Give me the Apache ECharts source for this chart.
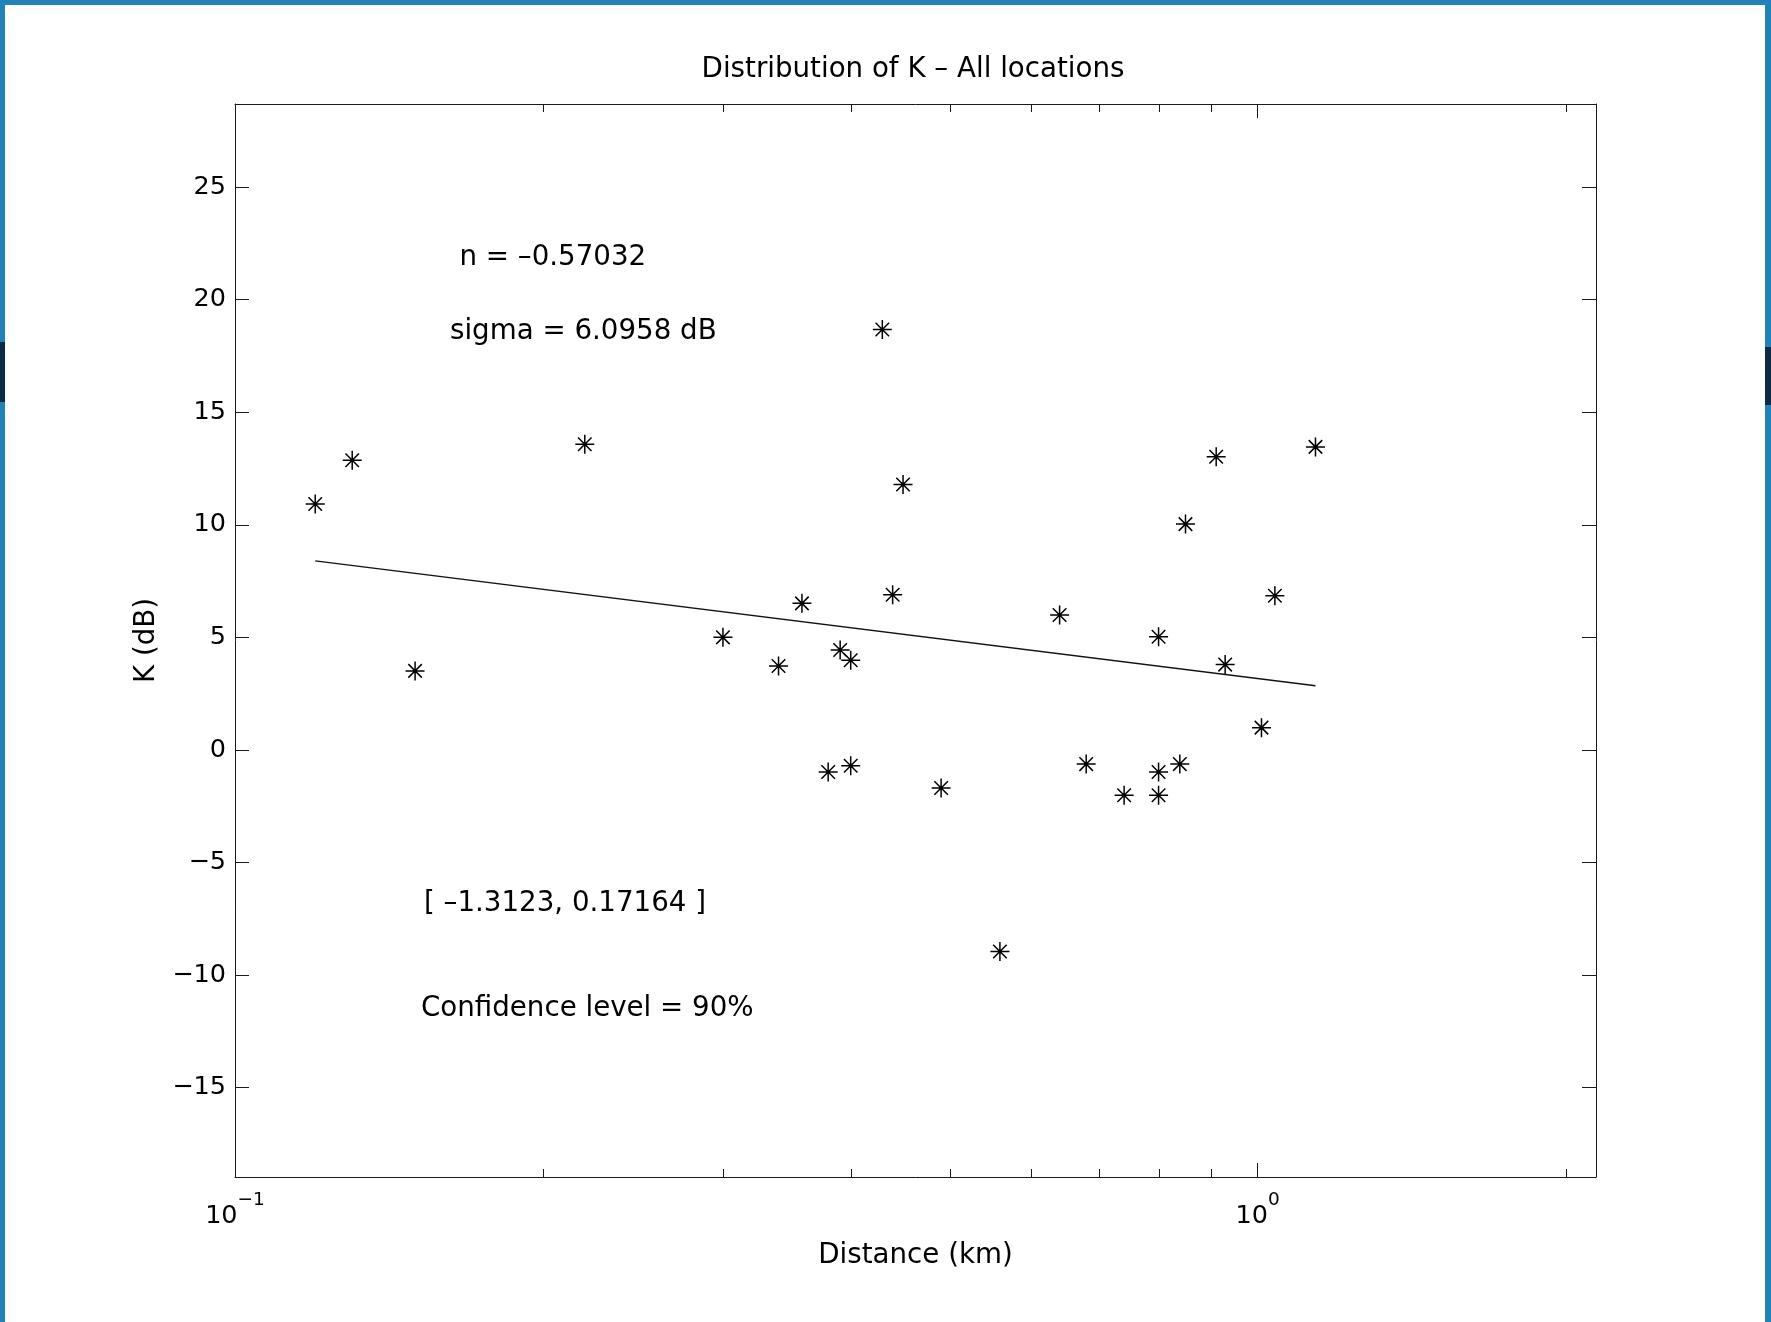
<!DOCTYPE html>
<html><head><meta charset="utf-8">
<script src="https://cdn.jsdelivr.net/npm/echarts@6/dist/echarts.min.js"></script>
<style>
html,body{margin:0;padding:0;background:#fff;overflow:hidden}
#chart{position:absolute;left:0;top:0;width:1771px;height:1322px;background:#fff}
.fr{position:absolute;background:#2181b9;pointer-events:none}
</style></head><body>
<div id="chart"></div>
<div class="fr" style="left:0;top:0;width:1771px;height:5px"></div>
<div class="fr" style="left:0;top:0;width:5px;height:1322px"></div>
<div class="fr" style="left:1765px;top:0;width:6px;height:1322px"></div>
<div class="fr" style="left:0;top:342px;width:5px;height:60px;background:#0d2a44"></div>
<div class="fr" style="left:1765px;top:347px;width:6px;height:58px;background:#0d2a44"></div>
<script>
// ---- data ----
const distanceKm = [0.1198, 0.1302, 0.1500, 0.2198, 0.300, 0.340, 0.3584, 0.3802, 0.3906, 0.400,
  0.400, 0.4295, 0.4396, 0.450, 0.4903, 0.5597, 0.6402, 0.6797, 0.7403, 0.800,
  0.800, 0.800, 0.8392, 0.850, 0.9108, 0.9294, 1.0086, 1.0395, 1.139];
const kDb = [10.92, 12.87, 3.51, 13.58, 5.00, 3.73, 6.51, -0.98, 4.44, 3.98,
  -0.70, 18.67, 6.89, 11.79, -1.69, -8.95, 5.99, -0.63, -2.01, 5.03,
  -0.98, -2.01, -0.63, 10.03, 13.02, 3.79, 0.99, 6.85, 13.46];
const fitDistanceKm = [0.1198, 1.139];
const fitKDb = [8.40, 2.85];
const xMinorTicks = [0.2, 0.3, 0.4, 0.5, 0.6, 0.7, 0.8, 0.9, 2];
const yTickValues = [-15, -10, -5, 0, 5, 10, 15, 20, 25];
const titleText = 'Distribution of K \u2013 All locations';
const xName = 'Distance (km)';
const yName = 'K (dB)';
const annotationTexts = ['n = \u20130.57032', 'sigma = 6.0958 dB', '[ \u20131.3123, 0.17164 ]', 'Confidence level = 90%'];
// ---- layout ----
const annotX = [459.5, 450, 424, 421];
const annotY = [257.5, 331.5, 903.5, 1008.5];
const FONT = 'DejaVu Sans';
const AX = '#1a1a1a';

const chart = echarts.init(document.getElementById('chart'), null, {renderer: 'canvas'});

function logLabel(v) {
  const l = Math.log10(v);
  const e = Math.round(l);
  if (Math.abs(l - e) > 1e-6) return '';
  return '{b|10}{s|' + (e < 0 ? '\u2212' + (-e) : String(e)) + '}';
}

const common = {
  splitLine: {show: false},
  minorTick: {show: false},
  minorSplitLine: {show: false}
};

const option = {
  animation: false,
  backgroundColor: '#fff',
  title: {
    text: titleText, left: 913, top: 55.5, textAlign: 'center', padding: 0,
    textStyle: {fontFamily: FONT, fontSize: 27.7, fontWeight: 'normal', color: '#000'}
  },
  grid: {left: 235, top: 104, right: 175, bottom: 145, containLabel: false, outerBoundsMode: 'none'},
  xAxis: [
    Object.assign({
      type: 'log', logBase: 10, min: 0.1, max: 2.142, position: 'bottom',
      axisLine: {show: true, onZero: false, lineStyle: {color: AX, width: 1}},
      axisTick: {show: true, inside: true, length: 14, lineStyle: {color: AX, width: 1}},
      axisLabel: {
        show: true, margin: 14, formatter: logLabel, showMinLabel: true, showMaxLabel: false,
        rich: {
          b: {fontFamily: FONT, fontSize: 25.5, color: '#000', lineHeight: 50, verticalAlign: 'middle'},
          s: {fontFamily: FONT, fontSize: 18.5, color: '#000', lineHeight: 18, verticalAlign: 'top'}
        }
      },
      name: xName, nameLocation: 'middle', nameGap: 65,
      nameTextStyle: {fontFamily: FONT, fontSize: 27.7, color: '#000'}
    }, common),
    Object.assign({
      type: 'log', logBase: 10, min: 0.1, max: 2.142, position: 'top',
      axisLine: {show: true, onZero: false, lineStyle: {color: AX, width: 1}},
      axisTick: {show: true, inside: true, length: 14, lineStyle: {color: AX, width: 1}},
      axisLabel: {show: false}
    }, common)
  ],
  yAxis: [
    Object.assign({
      type: 'value', min: -18.97, max: 28.69, position: 'left', splitNumber: 10,
      axisLine: {show: true, onZero: false, lineStyle: {color: AX, width: 1}},
      axisTick: {show: true, inside: true, length: 14, customValues: yTickValues, lineStyle: {color: AX, width: 1}},
      axisLabel: {
        show: true, margin: 9, customValues: yTickValues,
        formatter: v => String(v).replace('-', '\u2212'),
        fontFamily: FONT, fontSize: 25.5, color: '#000'
      },
      name: yName, nameLocation: 'middle', nameGap: 73, nameRotate: 90,
      nameTextStyle: {fontFamily: FONT, fontSize: 27.7, color: '#000'}
    }, common),
    Object.assign({
      type: 'value', min: -18.97, max: 28.69, position: 'right', splitNumber: 10,
      axisLine: {show: true, onZero: false, lineStyle: {color: AX, width: 1}},
      axisTick: {show: true, inside: true, length: 14, customValues: yTickValues, lineStyle: {color: AX, width: 1}},
      axisLabel: {show: false, customValues: yTickValues}
    }, common)
  ],
  series: [
    {
      type: 'custom', xAxisIndex: 0, yAxisIndex: 0, silent: true, clip: false,
      data: xMinorTicks.map(v => [v, 0]),
      renderItem: function (params, api) {
        const px = Math.round(api.coord([api.value(0), api.value(1)])[0]) + 0.5;
        const cs = params.coordSys;
        const b = cs.y + cs.height, t = cs.y;
        return {type: 'group', children: [
          {type: 'line', shape: {x1: px, y1: b, x2: px, y2: b - 8}, style: {stroke: AX, lineWidth: 1}},
          {type: 'line', shape: {x1: px, y1: t, x2: px, y2: t + 8}, style: {stroke: AX, lineWidth: 1}}
        ]};
      }
    },
    {
      type: 'line', xAxisIndex: 0, yAxisIndex: 0, silent: true,
      data: fitDistanceKm.map((d, i) => [d, fitKDb[i]]),
      symbol: 'none',
      lineStyle: {color: '#111', width: 1.3}
    },
    {
      type: 'scatter', xAxisIndex: 0, yAxisIndex: 0, silent: true, z: 5,
      data: distanceKm.map((d, i) => [d, kDb[i]]),
      symbol: 'path://M0,-9L0,9M-9,0L9,0M-6.4,-6.4L6.4,6.4M-6.4,6.4L6.4,-6.4',
      symbolSize: 19,
      itemStyle: {color: '#000', borderColor: '#000', borderWidth: 1.5, opacity: 1}
    }
  ],
  graphic: annotationTexts.map((t, i) => ({
    type: 'text', x: annotX[i], y: annotY[i], silent: true,
    style: {text: t, fontFamily: FONT, fontSize: 27.7, fill: '#000', align: 'left', verticalAlign: 'middle'}
  }))
};
chart.setOption(option);
</script>
</body></html>
